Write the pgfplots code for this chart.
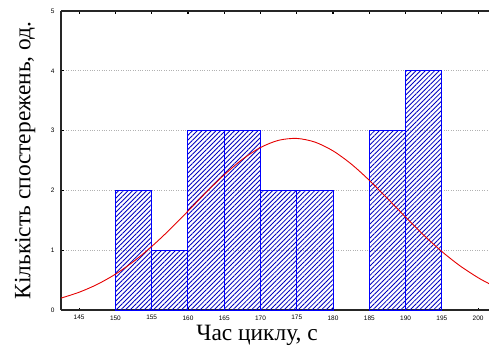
\documentclass[border=0pt]{standalone}
\usepackage{fontspec}
\setmainfont{Liberation Serif}
\newfontfamily\tickfont{Liberation Sans}
\usepackage{pgfplots}
\pgfplotsset{compat=1.18}
\usetikzlibrary{patterns.meta}
\begin{document}
\begin{tikzpicture}
\begin{axis}[
  scale only axis,
  width=428bp, height=299bp,
  xmin=142.5, xmax=201.5,
  ymin=0, ymax=5,
  xtick={145,150,...,200},
  ytick={0,1,2,3,4,5},
  axis y line*=left,
  axis x line*=box,
  axis line style={black!85, line width=1.4pt},
  tick align=inside,
  major tick length=2.5bp,
  tick style={black, line width=1.2pt},
  xtick pos=both,
  ytick pos=left,
  ymajorgrids,
  grid style={gray!60, dotted, line width=0.9pt},
  ticklabel style={font=\tickfont\fontsize{6.5}{7}\selectfont},
  /pgf/number format/assume math mode=true,
  xticklabel style={yshift=-2bp},
  yticklabel style={xshift=-3bp},
  label style={font=\fontsize{23.5}{26}\selectfont},
  xlabel={Час циклу, с},
  ylabel={Кількість спостережень, од.},
  xlabel style={at={(axis description cs:0.458,0)}, anchor=north, yshift=-12bp},
  ylabel style={at={(axis description cs:0,0.5)}, anchor=south, yshift=22bp},
]
\addplot[ybar interval, draw=blue, line width=1pt,
  pattern={Lines[angle=45, distance=3.3bp, line width=0.85bp]}, pattern color=blue!75!black]
  coordinates {(150,2) (155,1) (160,3) (165,3) (170,2) (175,2) (180,2)};
\addplot[ybar interval, draw=blue, line width=1pt,
  pattern={Lines[angle=45, distance=3.3bp, line width=0.85bp]}, pattern color=blue!75!black]
  coordinates {(185,3) (190,4) (195,4)};
\addplot[red!90!black, line width=0.9pt, smooth] coordinates {
(142.5,0.199) (145,0.297) (147.5,0.429) (150,0.599) (152.5,0.811)
(155,1.062) (157.5,1.346) (160,1.653) (162.5,1.965) (165,2.261)
(167.5,2.519) (170,2.717) (172.5,2.838) (175,2.869) (177.5,2.808)
(180,2.661) (182.5,2.442) (185,2.169) (187.5,1.865) (190,1.554)
(192.5,1.252) (195,0.978) (197.5,0.739) (200,0.540) (201.5,0.441)};
\end{axis}
\pgfresetboundingbox
\path (current axis.south west) ++(-61bp,-46bp) coordinate (bbA);
\path (current axis.north east) ++(0bp,11bp) coordinate (bbB);
\path[use as bounding box] (bbA) rectangle (bbB);
\end{tikzpicture}
\end{document}
